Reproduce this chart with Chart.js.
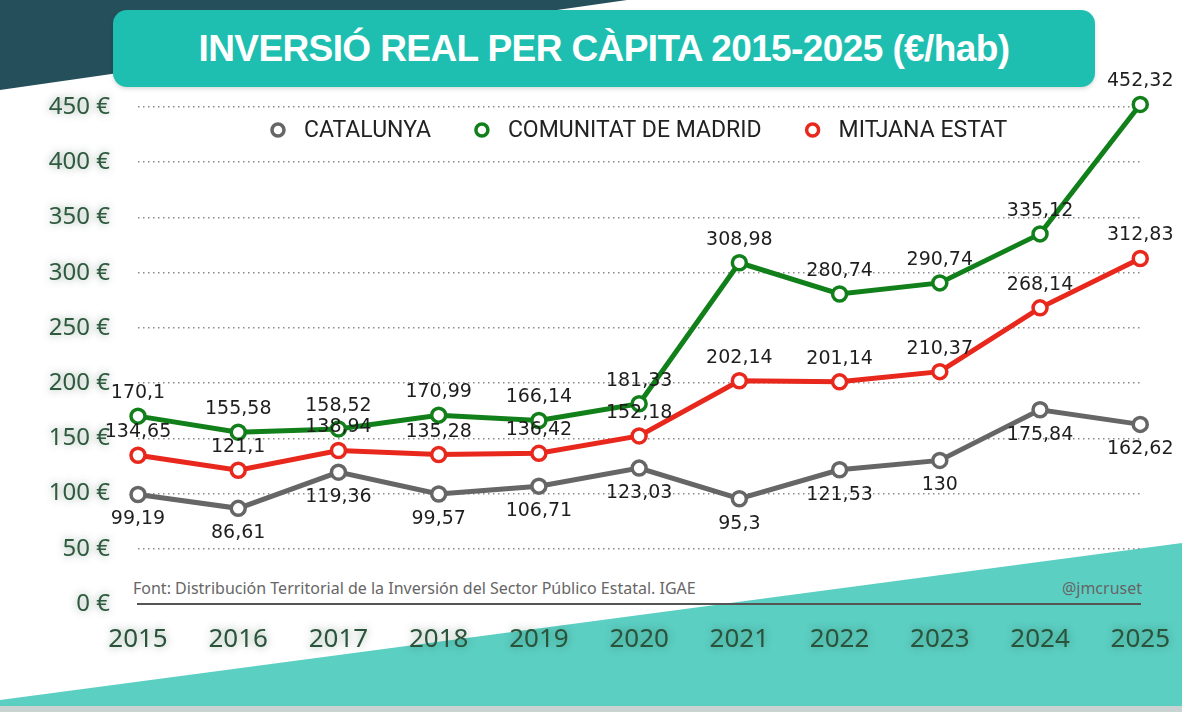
<!DOCTYPE html>
<html>
<head>
<meta charset="utf-8">
<script src="https://cdn.jsdelivr.net/npm/chart.js@4"></script>
<style>
  html, body { margin: 0; padding: 0; }
  body { width: 1182px; height: 712px; position: relative; overflow: hidden; background: #fff; font-family: Roboto, sans-serif; }
  #bg { position: absolute; left: 0; top: 0; }
  #title {
    position: absolute; left: 113px; top: 10px; width: 982px; height: 77px;
    background: #1ebfb1; border-radius: 14px;
    box-shadow: 0 2px 4px rgba(0,0,0,0.15);
    color: #fff; font: bold 37px "Liberation Sans", Arial, sans-serif;
    display: flex; align-items: center; justify-content: center; letter-spacing: -0.6px;
  }
  #chart { position: absolute; left: 0; top: 0; }
  .note { position: absolute; top: 577px; font: 16px "Noto Sans", sans-serif; color: #666; }
</style>
</head>
<body>
<svg id="bg" width="1182" height="712">
  <polygon points="0,0 627,0 0,90" fill="#264f5c"/>
  <polygon points="0,700 1182,543 1182,712 0,712" fill="#5ccfc3"/>
  <rect x="0" y="706" width="1182" height="6" fill="#c9d3d2"/>
</svg>
<div id="title">INVERSIÓ REAL PER CÀPITA 2015-2025 (€/hab)</div>
<div class="note" style="left:133px">Font: Distribución Territorial de la Inversión del Sector Público Estatal. IGAE</div>
<div class="note" style="right:40px">@jmcruset</div>
<canvas id="chart" width="1182" height="712"></canvas>
<script>
const years = ['2015', '2016', '2017', '2018', '2019', '2020', '2021', '2022', '2023', '2024', '2025'];
const catalunya = [99.19, 86.61, 119.36, 99.57, 106.71, 123.03, 95.3, 121.53, 130, 175.84, 162.62];
const madrid = [170.1, 155.58, 158.52, 170.99, 166.14, 181.33, 308.98, 280.74, 290.74, 335.12, 452.32];
const mitjana = [134.65, 121.1, 138.94, 135.28, 136.42, 152.18, 202.14, 201.14, 210.37, 268.14, 312.83];
const seriesNames = ['CATALUNYA', 'COMUNITAT DE MADRID', 'MITJANA ESTAT'];

function fmt(v) {
    return String(v).replace('.', ',');
}

function line(label, data, color, below) {
    return {
        label: label,
        data: data,
        borderColor: color,
        backgroundColor: '#fff',
        borderWidth: 5,
        pointRadius: 7,
        pointHoverRadius: 7,
        pointBorderWidth: 3.5,
        pointBackgroundColor: '#fff',
        pointBorderColor: color,
        clip: false,
        labelBelow: below
    };
}

// value labels next to each point
const valueLabels = {
    id: 'valueLabels',
    afterDatasetsDraw(chart) {
        const ctx = chart.ctx;
        ctx.save();
        ctx.font = '19px "DejaVu Sans", sans-serif';
        ctx.fillStyle = '#1e1e1e';
        ctx.textAlign = 'center';
        ctx.textBaseline = 'middle';
        chart.data.datasets.forEach((ds, i) => {
            chart.getDatasetMeta(i).data.forEach((pt, j) => {
                const dy = ds.labelBelow ? 25 : -23;
                ctx.fillText(fmt(ds.data[j]), pt.x, pt.y + dy);
            });
        });
        ctx.restore();
    }
};

// soft glow behind the axis labels
const labelGlow = {
    id: 'labelGlow',
    afterLayout(chart) {
        Object.values(chart.scales).forEach(scale => {
            if (scale._glow) return;
            scale._glow = true;
            const orig = scale.drawLabels;
            scale.drawLabels = function(area) {
                const ctx = this.ctx;
                ctx.save();
                ctx.shadowColor = 'rgba(20,70,40,0.45)';
                ctx.shadowBlur = 9;
                orig.call(this, area);
                ctx.restore();
            };
        });
    }
};

// legend drawn inside the plot area
const innerLegend = {
    id: 'innerLegend',
    afterDraw(chart) {
        const ctx = chart.ctx;
        const area = chart.chartArea;
        ctx.save();
        ctx.font = '23px Roboto, sans-serif';
        const items = chart.data.datasets.map(ds => ({ ds: ds, w: 33 + ctx.measureText(ds.label).width }));
        const gap = 44;
        let total = items.reduce((s, it) => s + it.w, 0) + gap * (items.length - 1);
        let x = (area.left + area.right) / 2 - total / 2;
        const y = 130;
        items.forEach(it => {
            ctx.beginPath();
            ctx.arc(x + 7, y, 6, 0, Math.PI * 2);
            ctx.fillStyle = '#fff';
            ctx.fill();
            ctx.lineWidth = 3.5;
            ctx.strokeStyle = it.ds.borderColor;
            ctx.stroke();
            ctx.fillStyle = '#222';
            ctx.textAlign = 'left';
            ctx.textBaseline = 'middle';
            ctx.fillText(it.ds.label, x + 33, y + 1);
            x += it.w + gap;
        });
        ctx.restore();
    }
};

new Chart(document.getElementById('chart'), {
    type: 'line',
    data: {
        labels: years,
        datasets: [
            line(seriesNames[0], catalunya, '#666666', true),
            line(seriesNames[1], madrid, '#12801a', false),
            line(seriesNames[2], mitjana, '#e8281c', false)
        ]
    },
    options: {
        responsive: false,
        animation: false,
        events: [],
        layout: { padding: { top: 107, right: 40, left: 0, bottom: 0 } },
        plugins: {
            legend: { display: false },
            tooltip: { enabled: false }
        },
        scales: {
            x: {
                grid: { display: false },
                border: { display: true, color: '#555', width: 2 },
                ticks: {
                    color: '#2b533b',
                    font: { family: '"Noto Sans", sans-serif', size: 26 },
                    padding: 12,
                    maxRotation: 0
                },
                afterFit(scale) { scale.height = 108; }
            },
            y: {
                min: 0,
                max: 450,
                ticks: {
                    stepSize: 50,
                    color: '#2f5a40',
                    font: { family: '"Noto Sans", sans-serif', size: 24 },
                    padding: 28,
                    callback: v => v + ' €'
                },
                grid: {
                    drawTicks: false,
                    color: ctx => ctx.tick && ctx.tick.value === 0 ? 'rgba(0,0,0,0)' : '#8a8a8a',
                    lineWidth: 1.5
                },
                border: { display: false, dash: [1.5, 3.5] },
                afterFit(scale) { scale.width = 138; }
            }
        }
    },
    plugins: [labelGlow, valueLabels, innerLegend]
});
</script>
</body>
</html>
